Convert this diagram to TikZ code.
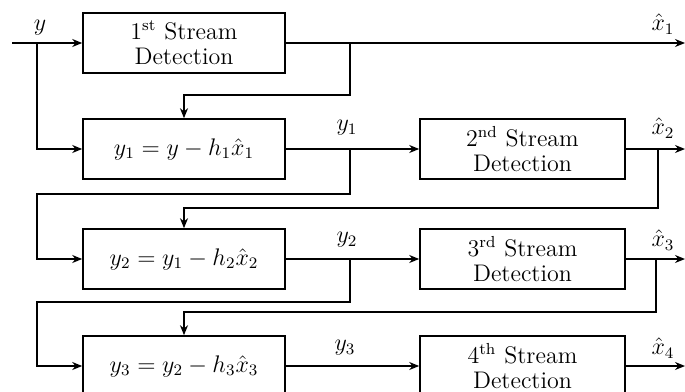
\documentclass[tikz,border=0pt]{standalone}
\usetikzlibrary{arrows.meta}
\begin{document}
\begin{tikzpicture}[x=0.5pt, y=-0.5pt, line width=0.8pt, >={Stealth[length=5pt,width=4pt]}]
	\tikzstyle{block} = [draw,rectangle,line width=0.8pt,minimum width=101pt,minimum height=30pt,align=center,font=\large]
	\tikzstyle{sig} = [inner sep=1pt,font=\large]
	\useasboundingbox (0,0) rectangle (685,391);
	\clip (0,0) rectangle (685,391);
	\node[block](det1)at(184,43){1\textsuperscript{st} Stream\\[-1.5pt]Detection};
	\node[block](sub1)at(184,149){$y_1 = y - h_1\hat{x}_1$};
	\node[block](sub2)at(184,259){$y_2 = y_1 - h_2\hat{x}_2$};
	\node[block](sub3)at(184,366){$y_3 = y_2 - h_3\hat{x}_3$};
	\node[block,minimum width=102.5pt](det2)at(522.5,149){2\textsuperscript{nd} Stream\\[-1.5pt]Detection};
	\node[block,minimum width=102.5pt](det3)at(522.5,259){3\textsuperscript{rd} Stream\\[-1.5pt]Detection};
	\node[block,minimum width=102.5pt](det4)at(522.5,366){4\textsuperscript{th} Stream\\[-1.5pt]Detection};
	\node[sig](ly)at(40,28){$y$};
	\node[sig](ly1)at(347,128){$y_1$};
	\node[sig](ly2)at(347,240){$y_2$};
	\node[sig](ly3)at(345,348){$y_3$};
	\node[sig](lx1)at(663,24){$\hat{x}_1$};
	\node[sig](lx2)at(663,128){$\hat{x}_2$};
	\node[sig](lx3)at(663,240){$\hat{x}_3$};
	\node[sig](lx4)at(663,348){$\hat{x}_4$};
	\coordinate(in)at(12,43);
	\coordinate(b0)at(37,43);
	\coordinate(b1)at(350,149);
	\coordinate(b2)at(350,259);
	\coordinate(f1)at(350,43);
	\coordinate(f2)at(658,149);
	\coordinate(f3)at(656,259);
	\coordinate(out1)at(685,43);
	\coordinate(out2)at(685,149);
	\coordinate(out3)at(685,259);
	\coordinate(out4)at(685,366);
	\path[->] (in) edge (det1)
	(det1) edge (out1)
	(det2) edge (out2)
	(det3) edge (out3)
	(det4) edge (out4)
	(sub1) edge (det2)
	(sub2) edge (det3)
	(sub3) edge (det4);
	\draw[->] (b0) |- (sub1);
	\draw[->] (b1) |- (37,194) |- (sub2);
	\draw[->] (b2) |- (37,302) |- (sub3);
	\draw[->] (f1) -- ++(0,52) -| (sub1.north);
	\draw[->] (f2) -- ++(0,59) -| (sub2.north);
	\draw[->] (f3) -- ++(0,53) -| (sub3.north);
\end{tikzpicture}
\end{document}
